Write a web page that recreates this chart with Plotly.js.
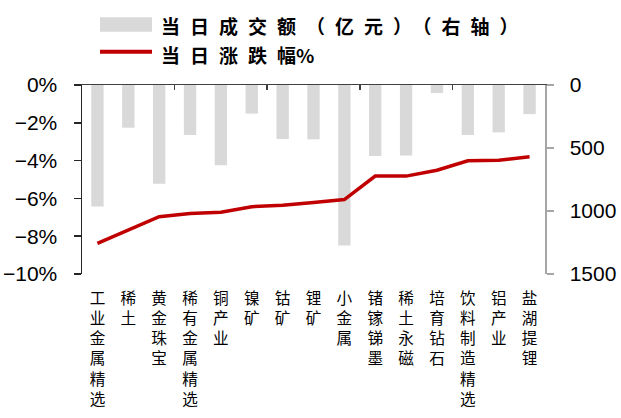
<!DOCTYPE html>
<html>
<head>
<meta charset="utf-8">
<script src="https://cdn.plot.ly/plotly-3.0.1.min.js"></script>
<style>
  html, body { margin: 0; padding: 0; background: #fff; }
  #chart { width: 621px; height: 418px; }
</style>
</head>
<body>
<div id="chart"></div>
<script>
const categories = ['工业金属精选','稀土','黄金珠宝','稀有金属精选','铜产业','镍矿','钴矿','锂矿','小金属','锗镓锑墨','稀土永磁','培育钻石','饮料制造精选','铝产业','盐湖提锂'];
const turnover = [964, 339, 784, 397, 636, 227, 429, 431, 1274, 564, 559, 64, 397, 376, 231];
const changePct = [-8.38, -7.65, -6.97, -6.80, -6.73, -6.44, -6.36, -6.22, -6.06, -4.82, -4.82, -4.51, -4.01, -3.98, -3.80];
const seriesNames = ['当日成交额（亿元）（右轴）', '当日涨跌幅%'];
const leftTicks = [0, -2, -4, -6, -8, -10];
const rightTicks = [0, 500, 1000, 1500];

const idx = categories.map((c, i) => i);
const verticalLabels = categories.map(c => c.split('').join('<br>'));

const L = 82, R = 545, T = 85, B = 274;
const px = x => (x - L) / (R - L);
const py = y => (B - y) / (B - T);

const LS = 'letter-spacing:10px';
const legend1 = '<span style="' + LS + '">' + seriesNames[0].slice(0, -1) + '</span>' + seriesNames[0].slice(-1);
const legend2 = '<span style="' + LS + '">' + seriesNames[1].slice(0, -2) + '</span>' + seriesNames[1].slice(-2);

const traces = [
  {
    type: 'bar', name: seriesNames[0], x: idx, y: turnover,
    xaxis: 'x', yaxis: 'y',
    marker: { color: '#D9D9D9' }, width: 0.4, showlegend: false,
    hoverinfo: 'skip'
  },
  {
    type: 'scatter', mode: 'lines', name: seriesNames[1], x: idx, y: changePct,
    xaxis: 'x2', yaxis: 'y2',
    line: { color: '#C00000', width: 3.5 }, showlegend: false,
    hoverinfo: 'skip'
  }
];

const tickFont = { family: 'Liberation Sans, Arial, sans-serif', size: 21, color: '#000' };
const legFont = { family: 'Noto Sans CJK SC, sans-serif', size: 19, color: '#000', weight: 'bold' };

const layout = {
  width: 621, height: 418,
  margin: { l: L, r: 621 - R, t: T, b: 418 - B },
  paper_bgcolor: '#fff', plot_bgcolor: 'rgba(0,0,0,0)',
  showlegend: false,
  bargap: 0.6,
  xaxis: {
    range: [-0.5, 14.5], tickvals: idx, ticktext: verticalLabels,
    showline: false, showgrid: false, zeroline: false, ticks: '',
    tickfont: { family: 'Noto Sans CJK SC, sans-serif', size: 15.6, color: '#000' },
    tickangle: 0, ticklabelstandoff: 13, fixedrange: true
  },
  yaxis: {
    side: 'right', range: [1500, 0], tickvals: rightTicks,
    showline: true, linecolor: '#A6A6A6', linewidth: 1.5,
    ticks: 'outside', ticklen: 7, tickcolor: '#A6A6A6', tickwidth: 1.5,
    showgrid: false, zeroline: false, tickfont: tickFont, ticklabelstandoff: 12
  },
  xaxis2: {
    overlaying: 'x', side: 'top', anchor: 'y2', range: [-0.5, 14.5],
    tickvals: [2.5, 5.5, 8.5, 11.5], showticklabels: false,
    ticks: 'inside', ticklen: 5, tickcolor: '#404040', tickwidth: 1.5,
    showline: true, linecolor: '#404040', linewidth: 1.5,
    showgrid: false, zeroline: false
  },
  yaxis2: {
    overlaying: 'y', side: 'left', anchor: 'x2', range: [-10, 0],
    tickvals: leftTicks, ticktext: leftTicks.map(v => (v < 0 ? '\u2212' + Math.abs(v) : v) + '%'),
    showline: true, linecolor: '#262626', linewidth: 1.5,
    ticks: 'outside', ticklen: 7, tickcolor: '#262626', tickwidth: 1.5,
    showgrid: false, zeroline: false, tickfont: tickFont, ticklabelstandoff: 12
  },
  shapes: [
    { type: 'rect', xref: 'paper', yref: 'paper', x0: px(100), x1: px(152), y0: py(31.7), y1: py(17.3),
      fillcolor: '#D9D9D9', line: { width: 0 } },
    { type: 'line', xref: 'paper', yref: 'paper', x0: px(100), x1: px(152), y0: py(51.7), y1: py(51.7),
      line: { color: '#C00000', width: 4 } }
  ],
  annotations: [
    { xref: 'paper', yref: 'paper', x: px(160), y: py(25.3), xanchor: 'left', yanchor: 'middle',
      align: 'left', showarrow: false, borderpad: 0, text: legend1, font: legFont },
    { xref: 'paper', yref: 'paper', x: px(160), y: py(54), xanchor: 'left', yanchor: 'middle',
      align: 'left', showarrow: false, borderpad: 0, text: legend2, font: legFont }
  ]
};

Plotly.newPlot('chart', traces, layout, { staticPlot: true, displayModeBar: false });
</script>
</body>
</html>
